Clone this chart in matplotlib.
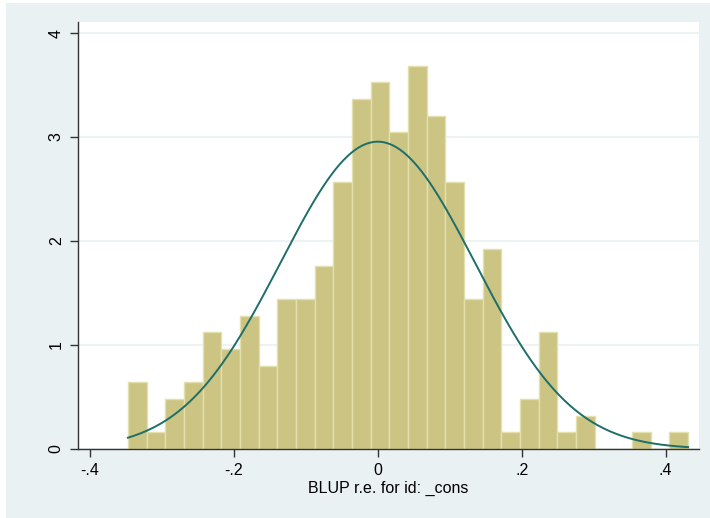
import numpy as np
import matplotlib
matplotlib.use('Agg')
from matplotlib import pyplot as plt
from matplotlib.patches import Rectangle

# ── Data ─────────────────────────────────────────────────────────────────────
bin_start = -0.347
bin_end   = 0.431
n_bins    = 30
density = [0.641, 0.160, 0.481, 0.641, 1.122, 0.962, 1.282, 0.801, 1.442, 1.442,
           1.763, 2.564, 3.365, 3.526, 3.045, 3.686, 3.205, 2.564, 1.442, 1.923,
           0.160, 0.481, 1.122, 0.160, 0.320, 0.0, 0.0, 0.160, 0.0, 0.160]
curve_mean = 0.0
curve_sd   = 0.135

x_ticks  = [-0.4, -0.2, 0, 0.2, 0.4]
x_labels = ['-.4', '-.2', '0', '.2', '.4']
y_ticks  = [0, 1, 2, 3, 4]
x_title  = 'BLUP r.e. for id: _cons'

# ── Style ────────────────────────────────────────────────────────────────────
BAR_FILL = '#CBC483'
BAR_EDGE = '#E4E0AE'
LINE_COL = '#1E6E69'
BG_COL   = '#EAF1F3'
plt.rcParams['font.family'] = ['Liberation Sans', 'DejaVu Sans']

fig = plt.figure(figsize=(7.10, 5.18), dpi=100, facecolor='white')
fig.patches.append(Rectangle((6 / 710, 0), 1, 1 - 3 / 518, transform=fig.transFigure,
                             facecolor=BG_COL, edgecolor='none', zorder=-10))
ax = fig.add_axes([77.7 / 710, 69 / 518, 621 / 710, 426.7 / 518])
ax.set_facecolor('white')

edges = np.linspace(bin_start, bin_end, n_bins + 1)
ax.bar(edges[:-1], density, width=np.diff(edges), align='edge',
       color=BAR_FILL, edgecolor=BAR_EDGE, linewidth=1.0, zorder=2)

xs = np.linspace(bin_start, bin_end, 300)
ys = np.exp(-0.5 * ((xs - curve_mean) / curve_sd) ** 2) / (curve_sd * np.sqrt(2 * np.pi))
ax.plot(xs, ys, color=LINE_COL, linewidth=1.4, zorder=3)

ax.set_xlim(-0.4167, 0.4458)
ax.set_ylim(0, 4.103)
ax.set_xticks(x_ticks)
ax.set_xticklabels(x_labels)
ax.set_yticks(y_ticks)
ax.set_yticklabels([str(v) for v in y_ticks], rotation=90, va='center')
ax.tick_params(axis='both', labelsize=11.5, length=6, width=1, color='#333333', pad=4)
ax.grid(axis='y', color='#EAF1F3', linewidth=1.2, zorder=0)
ax.set_axisbelow(True)

for s in ['top', 'right']:
    ax.spines[s].set_visible(False)
for s in ['left', 'bottom']:
    ax.spines[s].set_color('#333333')
    ax.spines[s].set_linewidth(1.0)

ax.set_xlabel(x_title, fontsize=11.5, labelpad=2)

fig.savefig('out.png', dpi=100, facecolor=fig.get_facecolor())
